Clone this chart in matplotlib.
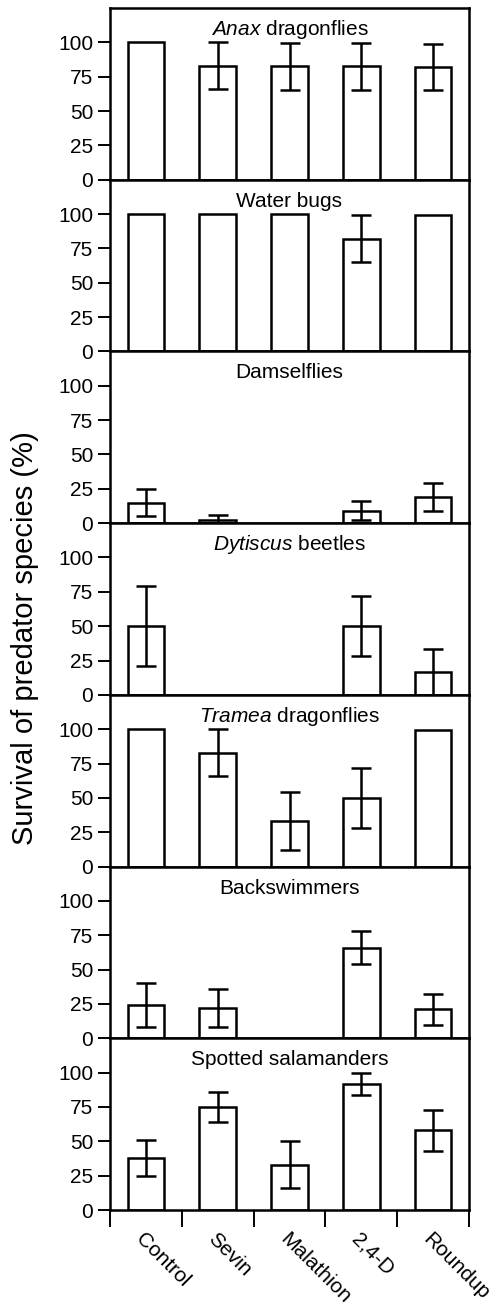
import numpy as np
import matplotlib
matplotlib.use("Agg")
import matplotlib.pyplot as plt

plt.rcParams["font.family"] = ["Liberation Sans", "DejaVu Sans"]
plt.rcParams["mathtext.fontset"] = "custom"
plt.rcParams["mathtext.rm"] = "Liberation Sans"
plt.rcParams["mathtext.it"] = "Liberation Sans:italic"

treatments = ["Control", "Sevin", "Malathion", "2,4-D", "Roundup"]

panel_titles = [
    r"$\mathit{Anax}$ dragonflies",
    "Water bugs",
    "Damselflies",
    r"$\mathit{Dytiscus}$ beetles",
    r"$\mathit{Tramea}$ dragonflies",
    "Backswimmers",
    "Spotted salamanders",
]

# mean survival (%) and error (+/-) per treatment
anax = [100, 83, 82.5, 82.5, 82]
anax_err = [0, 17, 17, 17, 17]
water_bugs = [100, 100, 100, 82, 99.5]
water_bugs_err = [0, 0, 0, 17, 0]
damselflies = [15, 2.5, 0, 9, 19]
damselflies_err = [10, 3.5, 0, 7, 10]
dytiscus = [50, 0, 0, 50, 16.5]
dytiscus_err = [29, 0, 0, 22, 17]
tramea = [100, 83, 33, 50, 99.5]
tramea_err = [0, 17, 21, 22, 0]
backswimmers = [24.5, 22, 0, 66, 21]
backswimmers_err = [16, 14, 0, 12, 11]
salamanders = [38, 75, 33, 92, 58]
salamanders_err = [13, 11, 17, 8, 15]

means = [anax, water_bugs, damselflies, dytiscus, tramea, backswimmers, salamanders]
errs = [anax_err, water_bugs_err, damselflies_err, dytiscus_err, tramea_err,
        backswimmers_err, salamanders_err]

fig = plt.figure(figsize=(4.93, 13.05), dpi=100)
gs = fig.add_gridspec(7, 1, left=110 / 493, right=469 / 493,
                      bottom=1 - 1210 / 1305, top=1 - 8 / 1305, hspace=0)

x = np.arange(len(treatments))
fs = 15

for i in range(7):
    ax = fig.add_subplot(gs[i])
    m = np.array(means[i], dtype=float)
    e = np.array(errs[i], dtype=float)
    show = m > 0
    ax.bar(x[show], m[show], width=0.51, color="white", edgecolor="black",
           linewidth=1.8, zorder=2)
    has_err = e > 0
    ax.errorbar(x[has_err], m[has_err], yerr=e[has_err], fmt="none",
                ecolor="black", elinewidth=1.8, capsize=7.5, capthick=1.8, zorder=3)
    ax.set_xlim(-0.5, 4.5)
    ax.set_ylim(0, 125)
    ax.set_yticks([0, 25, 50, 75, 100])
    ax.tick_params(axis="y", direction="out", length=9, width=1.4,
                   labelsize=fs, pad=3)
    ax.text(0.5, 0.875, panel_titles[i], transform=ax.transAxes,
            ha="center", va="center", fontsize=fs)
    for sp in ax.spines.values():
        sp.set_linewidth(1.8)
    ax.set_xticks(np.arange(-0.5, 5.0, 1.0))
    ax.set_xticks(x, minor=True)
    if i < 6:
        ax.tick_params(axis="x", which="both", length=0, labelbottom=False)
    else:
        ax.tick_params(axis="x", which="major", direction="out", length=12,
                       width=1.4, labelbottom=False)
        ax.tick_params(axis="x", which="minor", length=0, pad=14)
        ax.set_xticklabels(treatments, minor=True, rotation=-45, ha="left",
                           va="top", rotation_mode="anchor", fontsize=fs)

fig.text(0.051, 1 - 638 / 1305, "Survival of predator species (%)", rotation=90,
         ha="center", va="center", fontsize=21)

fig.savefig("out.png", dpi=100)
